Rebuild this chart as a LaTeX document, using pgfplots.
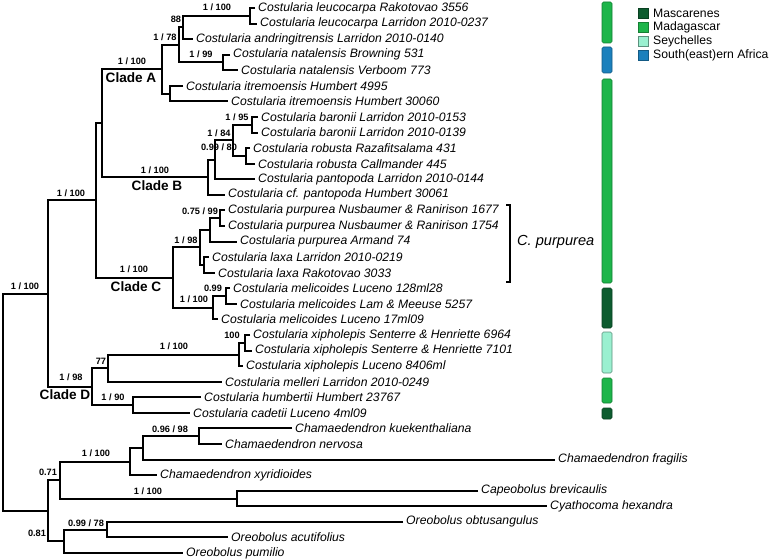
\documentclass[border=0pt]{standalone}
\usepackage{pgfplots}
\pgfplotsset{compat=1.18}
\usepackage{fontspec}
\setmainfont{Liberation Sans}
\definecolor{masc}{HTML}{0D5C2F}
\definecolor{mada}{HTML}{1DB54A}
\definecolor{seych}{HTML}{9AF0D0}
\definecolor{safr}{HTML}{1B80BC}
\newcommand{\tip}[3]{\node[anchor=west,inner sep=0pt,font=\fontsize{12.2bp}{14bp}\selectfont\itshape] at (axis cs:#1,#2) {#3};}
\newcommand{\supp}[3]{\node[inner sep=0pt,font=\fontsize{9.2bp}{11bp}\selectfont\bfseries] at (axis cs:#1,#2) {#3};}
\newcommand{\clade}[3]{\node[inner sep=0pt,font=\fontsize{13.6bp}{16bp}\selectfont\bfseries] at (axis cs:#1,#2) {#3};}
\begin{document}
\begin{tikzpicture}
\useasboundingbox (0,0) rectangle (770bp,559bp);
\begin{axis}[at={(0,0)},anchor=south west,scale only axis,width=770bp,height=559bp,
  xmin=0,xmax=770,ymin=0,ymax=559,y dir=reverse,hide axis,clip=false,
  br/.style={black,solid,line width=2bp,mark=none,line join=miter}]
% --- tree: one elbow per internal node
\addplot[br] coordinates {(255,8.0) (250,8.0) (250,23.6) (257,23.6)};
\addplot[br] coordinates {(250,15.8) (183,15.8) (183,39.1) (193,39.1)};
\addplot[br] coordinates {(230,54.7) (223,54.7) (223,70.3) (238,70.3)};
\addplot[br] coordinates {(183,27.5) (179,27.5) (179,62.5) (223,62.5)};
\addplot[br] coordinates {(183,85.9) (170,85.9) (170,101.4) (228,101.4)};
\addplot[br] coordinates {(179,45) (162,45) (162,93.7) (170,93.7)};
\addplot[br] coordinates {(258,117.0) (252,117.0) (252,132.6) (258,132.6)};
\addplot[br] coordinates {(250,148.1) (246,148.1) (246,163.7) (255,163.7)};
\addplot[br] coordinates {(252,124.8) (233,124.8) (233,155.9) (246,155.9)};
\addplot[br] coordinates {(233,140.4) (215,140.4) (215,179.3) (255,179.3)};
\addplot[br] coordinates {(215,159.8) (208,159.8) (208,194.8) (225,194.8)};
\addplot[br] coordinates {(162,69.3) (102,69.3) (102,177.3) (208,177.3)};
\addplot[br] coordinates {(225,210.4) (220,210.4) (220,226.0) (225,226.0)};
\addplot[br] coordinates {(220,218.2) (210,218.2) (210,241.6) (237,241.6)};
\addplot[br] coordinates {(209,257.1) (204,257.1) (204,272.7) (215,272.7)};
\addplot[br] coordinates {(210,229.9) (200,229.9) (200,264.9) (204,264.9)};
\addplot[br] coordinates {(230,288.3) (226,288.3) (226,303.8) (237,303.8)};
\addplot[br] coordinates {(226,296.1) (213,296.1) (213,319.4) (218,319.4)};
\addplot[br] coordinates {(200,247.4) (173,247.4) (173,307.7) (213,307.7)};
\addplot[br] coordinates {(102,123.3) (96,123.3) (96,277.6) (173,277.6)};
\addplot[br] coordinates {(250,335.0) (245,335.0) (245,350.6) (252,350.6)};
\addplot[br] coordinates {(245,342.8) (239,342.8) (239,366.1) (243,366.1)};
\addplot[br] coordinates {(239,354.5) (108,354.5) (108,381.7) (222,381.7)};
\addplot[br] coordinates {(201,397.3) (133,397.3) (133,412.8) (190,412.8)};
\addplot[br] coordinates {(108,368.1) (92,368.1) (92,405.0) (133,405.0)};
\addplot[br] coordinates {(96,200.4) (48,200.4) (48,386.6) (92,386.6)};
\addplot[br] coordinates {(292,428.4) (199,428.4) (199,444.0) (222,444.0)};
\addplot[br] coordinates {(199,436.2) (143,436.2) (143,459.5) (555,459.5)};
\addplot[br] coordinates {(143,447.9) (130,447.9) (130,475.1) (157,475.1)};
\addplot[br] coordinates {(478,490.7) (237,490.7) (237,506.3) (547,506.3)};
\addplot[br] coordinates {(130,461.5) (60,461.5) (60,498.5) (237,498.5)};
\addplot[br] coordinates {(403,521.8) (107,521.8) (107,537.4) (228,537.4)};
\addplot[br] coordinates {(107,529.6) (64,529.6) (64,553.0) (183,553.0)};
\addplot[br] coordinates {(60,480) (48,480) (48,541.3) (64,541.3)};
\addplot[br] coordinates {(48,293.5) (3,293.5) (3,510.7) (48,510.7)};
% --- bracket
\addplot[br,line width=1.3bp] coordinates {(506,205) (510,205) (510,282) (506,282)};
% --- geography bars
\addplot[fill=mada,draw=mada!70!black,line width=0.6bp,rounded corners=1.5bp] coordinates {(602,2) (612,2) (612,43) (602,43)} -- cycle;
\addplot[fill=safr,draw=safr!70!black,line width=0.6bp,rounded corners=1.5bp] coordinates {(602,47) (612,47) (612,73) (602,73)} -- cycle;
\addplot[fill=mada,draw=mada!70!black,line width=0.6bp,rounded corners=1.5bp] coordinates {(602,79) (612,79) (612,283) (602,283)} -- cycle;
\addplot[fill=masc,draw=masc!70!black,line width=0.6bp,rounded corners=1.5bp] coordinates {(602,288) (612,288) (612,328) (602,328)} -- cycle;
\addplot[fill=seych,draw=seych!60!black,line width=0.6bp,rounded corners=1.5bp] coordinates {(602,332) (612,332) (612,373) (602,373)} -- cycle;
\addplot[fill=mada,draw=mada!70!black,line width=0.6bp,rounded corners=1.5bp] coordinates {(602,378) (612,378) (612,403) (602,403)} -- cycle;
\addplot[fill=masc,draw=masc!70!black,line width=0.6bp,rounded corners=1.5bp] coordinates {(602,408) (612,408) (612,419) (602,419)} -- cycle;
% --- legend squares
\addplot[fill=masc,draw=masc!70!black,line width=0.5bp] coordinates {(638,8.5) (648,8.5) (648,18.5) (638,18.5)} -- cycle;
\addplot[fill=mada,draw=mada!70!black,line width=0.5bp] coordinates {(638,22.5) (648,22.5) (648,32.5) (638,32.5)} -- cycle;
\addplot[fill=seych,draw=seych!60!black,line width=0.5bp] coordinates {(638,36.5) (648,36.5) (648,46.5) (638,46.5)} -- cycle;
\addplot[fill=safr,draw=safr!70!black,line width=0.5bp] coordinates {(638,50.5) (648,50.5) (648,60.5) (638,60.5)} -- cycle;
\begin{scope}[every node/.style={anchor=west,inner sep=0pt,font=\fontsize{12.2bp}{14bp}\selectfont}]
\node at (axis cs:653,13.5) {Mascarenes};
\node at (axis cs:653,27.5) {Madagascar};
\node at (axis cs:653,41.5) {Seychelles};
\node at (axis cs:653,55.5) {South(east)ern Africa};
\end{scope}
\node[anchor=west,inner sep=0pt,font=\fontsize{14.6bp}{17bp}\selectfont\itshape] at (axis cs:517,242) {C. purpurea};
% --- tip labels
\tip{258}{8.0}{Costularia leucocarpa Rakotovao 3556}
\tip{260}{23.6}{Costularia leucocarpa Larridon 2010-0237}
\tip{196}{39.1}{Costularia andringitrensis Larridon 2010-0140}
\tip{233}{54.7}{Costularia natalensis Browning 531}
\tip{241}{70.3}{Costularia natalensis Verboom 773}
\tip{186}{85.9}{Costularia itremoensis Humbert 4995}
\tip{231}{101.4}{Costularia itremoensis Humbert 30060}
\tip{261}{117.0}{Costularia baronii Larridon 2010-0153}
\tip{261}{132.6}{Costularia baronii Larridon 2010-0139}
\tip{253}{148.1}{Costularia robusta Razafitsalama 431}
\tip{258}{163.7}{Costularia robusta Callmander 445}
\tip{258}{179.3}{Costularia pantopoda Larridon 2010-0144}
\tip{228}{194.8}{Costularia cf. pantopoda Humbert 30061}
\tip{228}{210.4}{Costularia purpurea Nusbaumer \& Ranirison 1677}
\tip{228}{226.0}{Costularia purpurea Nusbaumer \& Ranirison 1754}
\tip{240}{241.6}{Costularia purpurea Armand 74}
\tip{212}{257.1}{Costularia laxa Larridon 2010-0219}
\tip{218}{272.7}{Costularia laxa Rakotovao 3033}
\tip{233}{288.3}{Costularia melicoides Luceno 128ml28}
\tip{240}{303.8}{Costularia melicoides Lam \& Meeuse 5257}
\tip{221}{319.4}{Costularia melicoides Luceno 17ml09}
\tip{253}{335.0}{Costularia xipholepis Senterre \& Henriette 6964}
\tip{255}{350.6}{Costularia xipholepis Senterre \& Henriette 7101}
\tip{246}{366.1}{Costularia xipholepis Luceno 8406ml}
\tip{225}{381.7}{Costularia melleri Larridon 2010-0249}
\tip{204}{397.3}{Costularia humbertii Humbert 23767}
\tip{193}{412.8}{Costularia cadetii Luceno 4ml09}
\tip{295}{428.4}{Chamaedendron kuekenthaliana}
\tip{225}{444.0}{Chamaedendron nervosa}
\tip{558}{459.5}{Chamaedendron fragilis}
\tip{160}{475.1}{Chamaedendron xyridioides}
\tip{481}{490.7}{Capeobolus brevicaulis}
\tip{550}{506.3}{Cyathocoma hexandra}
\tip{406}{521.8}{Oreobolus obtusangulus}
\tip{231}{537.4}{Oreobolus acutifolius}
\tip{186}{553.0}{Oreobolus pumilio}
% --- support values
\supp{217}{7}{1 / 100}
\supp{176}{19}{88}
\supp{165}{37}{1 / 78}
\supp{201}{54}{1 / 99}
\supp{132}{61}{1 / 100}
\supp{237}{117}{1 / 95}
\supp{219}{133}{1 / 84}
\supp{219}{147}{0.99 / 80}
\supp{155}{170}{1 / 100}
\supp{71}{193}{1 / 100}
\supp{200}{211}{0.75 / 99}
\supp{186}{240}{1 / 98}
\supp{134}{269}{1 / 100}
\supp{25}{286}{1 / 100}
\supp{213}{288}{0.99}
\supp{194}{299}{1 / 100}
\supp{232}{335}{100}
\supp{174}{346}{1 / 100}
\supp{101}{361}{77}
\supp{71}{377}{1 / 98}
\supp{113}{397}{1 / 90}
\supp{170}{429}{0.96 / 98}
\supp{96}{453}{1 / 100}
\supp{48}{472}{0.71}
\supp{148}{491}{1 / 100}
\supp{86}{523}{0.99 / 78}
\supp{37}{533}{0.81}
% --- clade names
\clade{131}{78}{Clade A}
\clade{157}{186}{Clade B}
\clade{136}{287}{Clade C}
\clade{65}{395}{Clade D}
\end{axis}
\end{tikzpicture}
\end{document}
